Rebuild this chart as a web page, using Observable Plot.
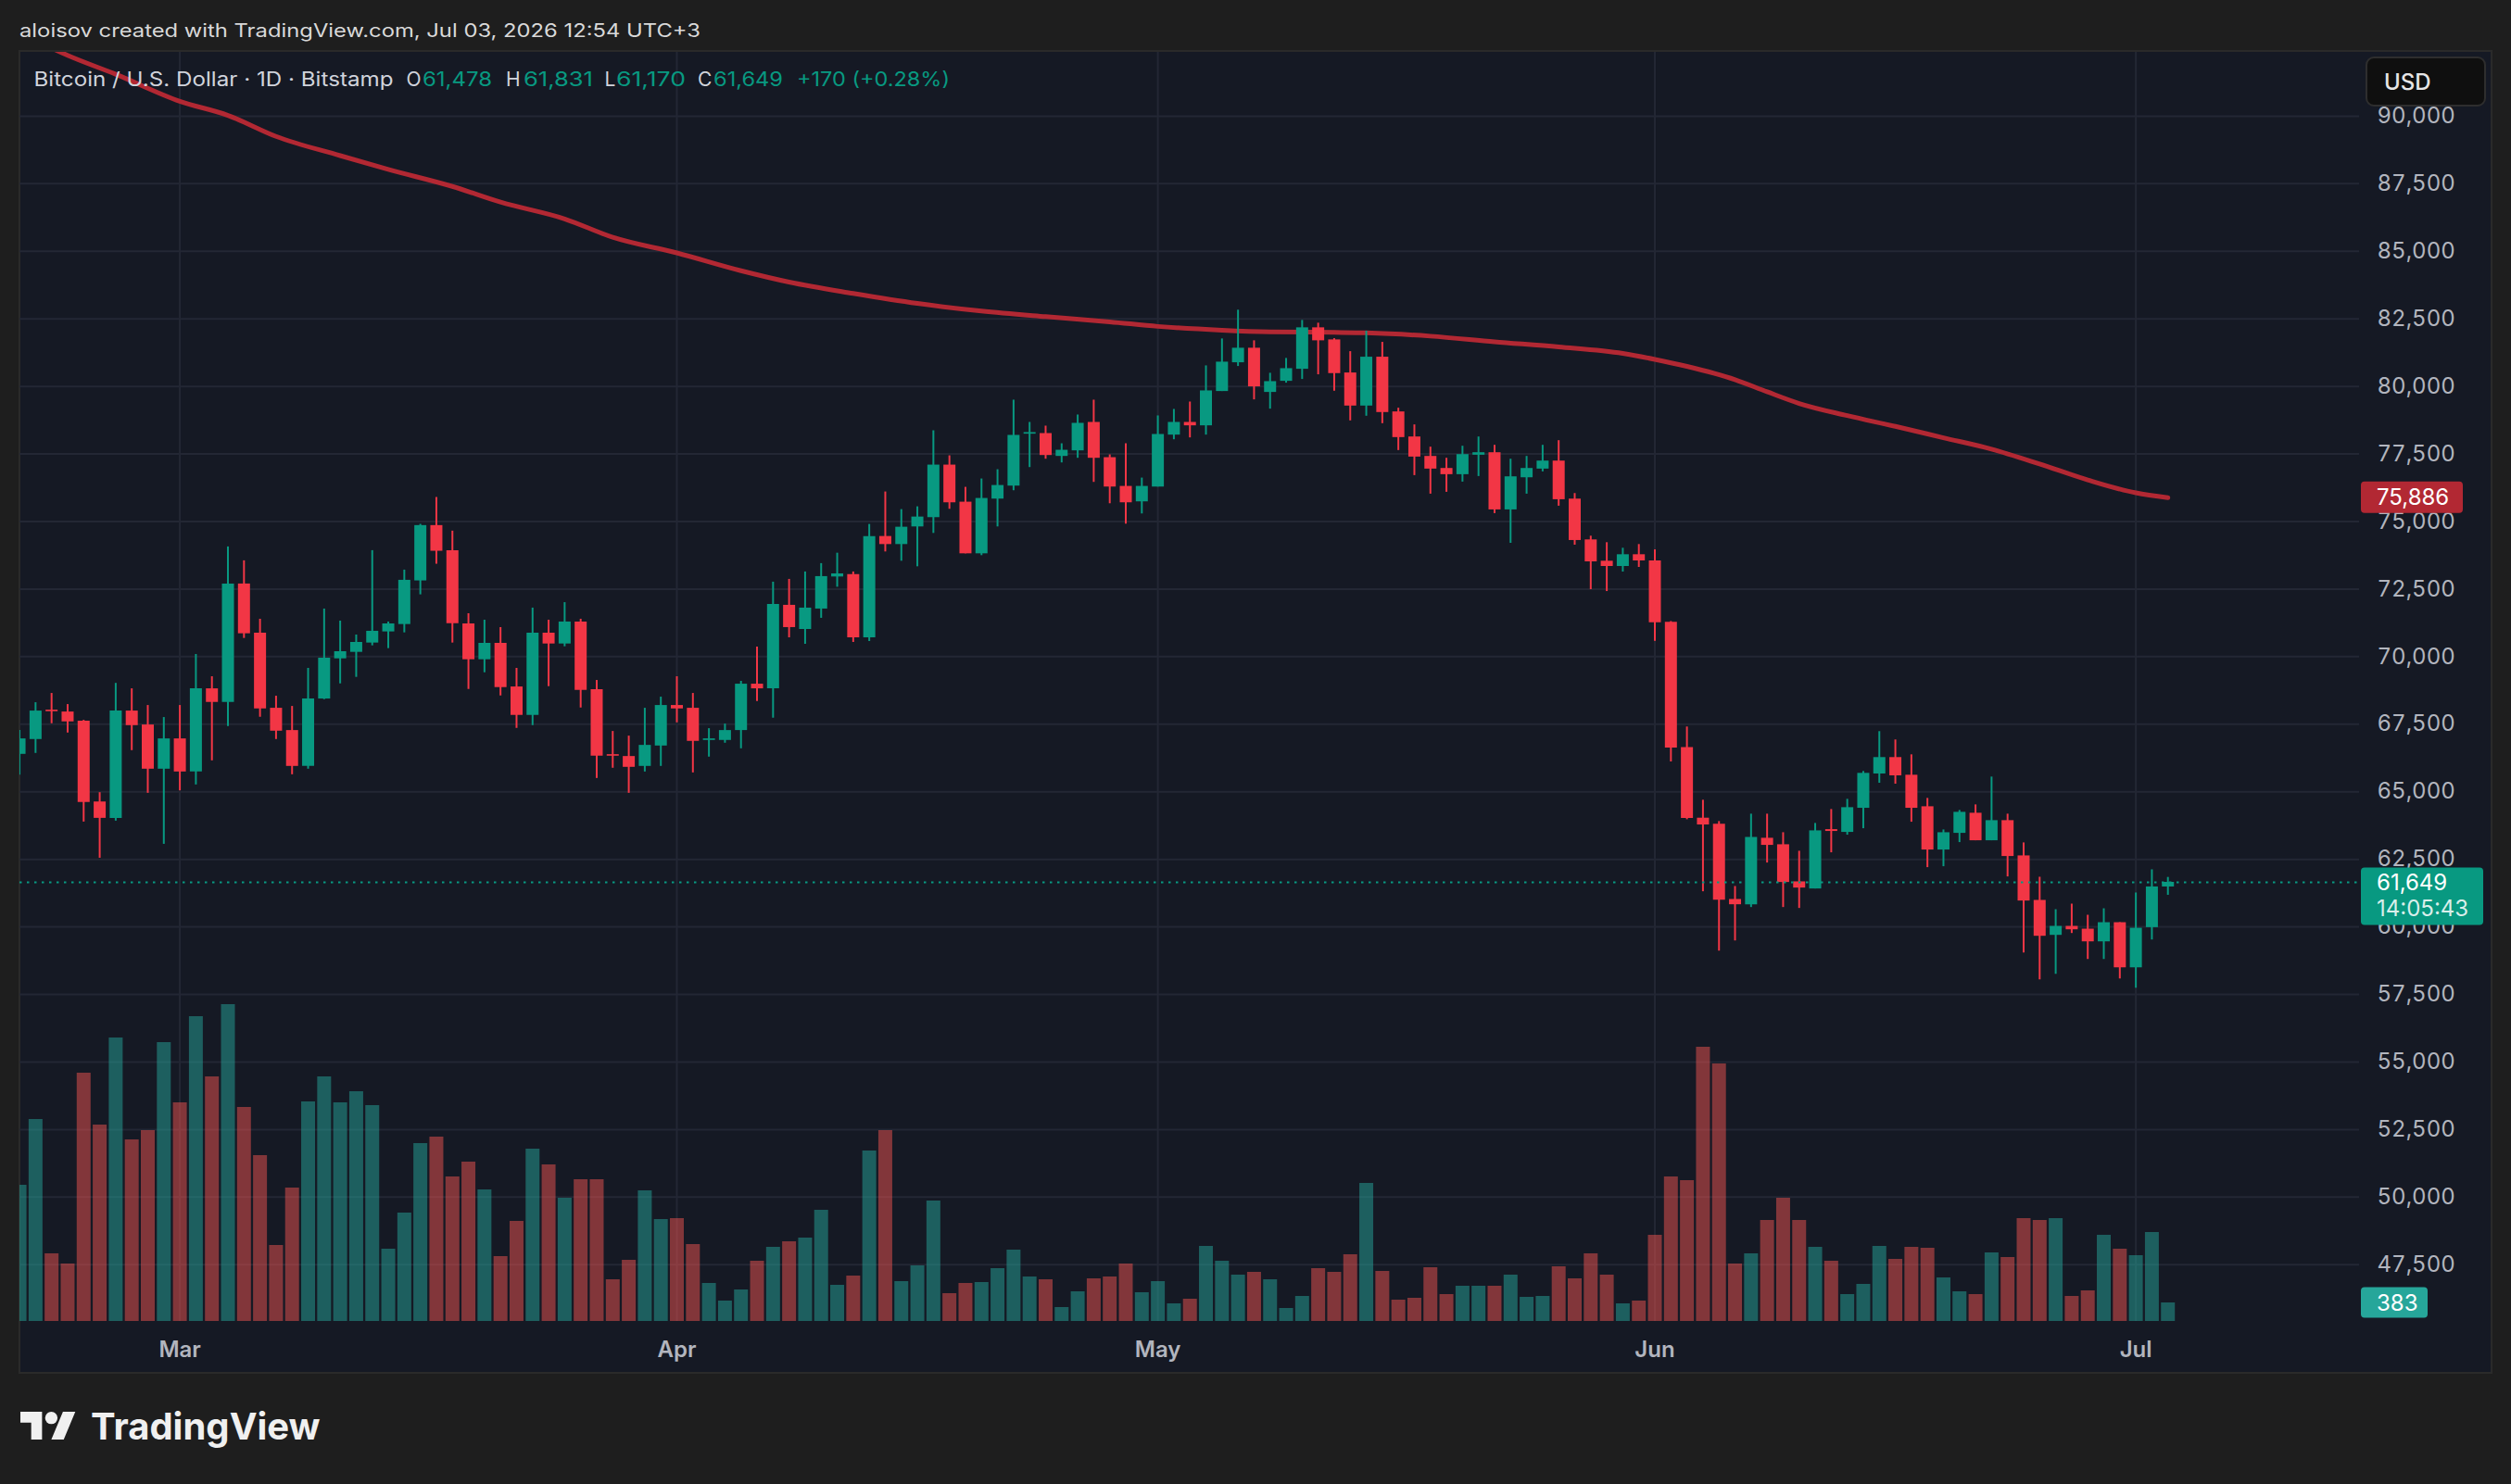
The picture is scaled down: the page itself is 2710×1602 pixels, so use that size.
<!DOCTYPE html>
<html><head><meta charset="utf-8">
<script src="https://cdn.jsdelivr.net/npm/d3@7"></script>
<script src="https://cdn.jsdelivr.net/npm/@observablehq/plot@0.6"></script>
<style>
html,body{margin:0;padding:0;background:#1e1e1e;}
#root{position:relative;width:2710px;height:1602px;overflow:hidden;background:#1e1e1e;font-family:Inter,"DejaVu Sans",sans-serif;}
#panel{position:absolute;left:20px;top:54px;width:2670px;height:1429px;background:#151924;border:2px solid #2a2a2a;box-sizing:border-box}
.layer{position:absolute;left:0;top:0;}
</style></head>
<body><div id="root"><div id="panel"></div></div>
<script>
// ---------------- data ----------------
const firstDay = "2026-02-19", lastDay = "2026-07-03";
const open = [
66385,66934,68021,67952,67610,64623,64017,67987,67472,65836,
66957,65733,68810,68307,72689,70870,68090,67266,65939,68433,
69920,70160,70504,70916,71190,72803,74851,73924,71213,69886,
70492,68879,67827,70870,70469,71282,68776,66374,66305,65939,
66694,
68193,68090,66900,66900,67266,68982,68810,71900,71007,71762,
72949,73040,70698,74447,74149,74801,75145,77089,75717,73806,
75831,76312,78234,78256,77410,77616,78668,77364,76300,75729,
76277,78199,78668,78542,79812,80876,81414,79778,80189,80635,
82169,81722,80498,79274,81082,79057,78130,77410,76964,76735,
77455,77547,75431,76620,76941,77238,75831,74321,73532,73337,
73772,
73541,71276,66632,64023,63795,61015,60820,63280,63040,61667,
61404,63600,63497,64389,65659,66266,65613,64446,62845,63462,
64206,63188,63932,62628,60981,59687,60019,59916,59447,60156,
58486,59973,61478];
const high = [
67266,68296,68639,68227,67644,64967,69012,68810,68193,67747,
68193,70080,69257,74061,73547,71385,68536,68158,69566,71762,
71316,70801,73924,71282,73203,74897,75891,74645,71590,71350,
71076,69566,71797,71350,71999,71385,69120,67232,67060,68090,
68502,
69257,68639,67335,67506,69086,70355,72757,72860,73135,73444,
73829,73135,74893,76094,75442,75545,78359,77432,76266,76575,
76918,79492,78668,78531,77878,78943,79492,77467,77879,76609,
78909,79149,79423,80761,81757,82821,81688,80487,81036,82443,
82340,81768,81287,82043,81631,79194,78577,77753,77341,77787,
78130,77821,77307,77410,77821,77993,76037,74458,74218,74012,
74149,
73953,71300,67398,64687,63898,61495,64172,64172,63486,62799,
63829,64344,64721,65751,67226,66918,66368,64755,63588,64309,
64515,65545,64172,63108,61838,60637,60843,60431,60671,60156,
61255,62113,61831];
const low = [
65619,66420,67518,67175,63880,62541,63914,66523,64944,63056,
65036,65253,66145,67415,70675,67758,66934,65630,65836,68410,
68994,69234,70401,70298,70881,72288,73421,70504,68787,69405,
68547,67346,67449,68891,70366,68101,65493,65871,64944,65733,
65939,
67552,65699,66283,66797,66591,68341,67724,70698,70458,71419,
72570,70527,70561,73875,73532,73326,74561,75454,73806,73738,
74801,76140,76998,77307,77170,77341,76449,75659,74904,75282,
76277,78027,78096,78199,79812,80738,79503,79160,80121,80258,
80430,79823,78725,78897,78622,77627,76700,76014,76083,76460,
76666,75293,74195,76014,76838,75568,74126,72479,72410,73131,
73303,
70567,66105,63966,61301,59104,59481,60717,62364,60717,60683,
61404,62742,63394,63634,65316,65282,63874,62193,62227,63120,
63188,63188,61850,59035,58040,58246,59756,58795,58795,58074,
57731,59516,61170];
const close = [
66957,67987,67964,67587,64601,64017,67987,67449,65836,66957,
65733,68810,68307,72689,70847,68067,67243,65939,68433,69943,
70183,70527,70939,71213,72826,74851,73901,71224,69886,70492,
68856,67827,70870,70469,71282,68753,66317,66317,65905,66717,
68193,
68067,66866,66958,67266,68982,68810,71934,71076,71797,72963,
73063,70698,74447,74149,74790,75167,77089,75694,73806,75854,
76334,78188,78291,77444,77638,78634,77341,76277,75694,76300,
78222,78668,78542,79835,80899,81414,79984,80178,80658,82169,
81688,80475,79274,81082,79034,78107,77386,76941,76735,77478,
77547,75431,76655,76964,77238,75808,74298,73509,73337,73772,
73543,
71253,66620,64012,63772,60992,60820,63314,63017,61644,61438,
63554,63532,64412,65682,66266,65591,64389,62845,63485,64240,
63188,63932,62605,60958,59653,60019,59893,59447,60156,58486,
59951,61479,61649];
const volume = [
2815,4175,1398,1187,5132,4060,5860,3753,3945,5764,
4519,6300,5055,6549,4423,3428,1570,2757,4538,5055,
4519,4749,4462,1494,2240,3677,3811,2987,3294,2719,
1340,2068,3562,3236,2547,2930,2930,862,1264,2700,
2106,
2126,1589,785,421,651,1245,1532,1647,1723,2298,
747,938,3523,3945,823,1149,2489,574,785,804,
1092,1474,919,862,287,613,881,919,1187,594,
823,364,460,1551,1245,957,1015,862,268,517,
1092,1015,1379,2853,1034,440,479,1111,555,728,
728,728,957,498,517,1130,881,1398,957,364,
421,
1781,2987,2911,5668,5323,1187,1398,2087,2547,2087,
1532,1245,555,766,1551,1283,1532,1513,900,613,
555,1417,1321,2126,2087,2126,517,632,1781,1494,
1360,1838,383];
const maDates = ["2026-02-20","2026-02-22","2026-02-25","2026-03-01","2026-03-04","2026-03-07","2026-03-11","2026-03-14","2026-03-18","2026-03-21",
"2026-03-25","2026-03-28","2026-04-01","2026-04-05","2026-04-08","2026-04-12","2026-04-16","2026-04-20","2026-04-24","2026-04-28",
"2026-05-01","2026-05-05","2026-05-08","2026-05-12","2026-05-14","2026-05-18","2026-05-22","2026-05-26","2026-05-30","2026-06-01",
"2026-06-03","2026-06-06","2026-06-08","2026-06-10","2026-06-13","2026-06-16","2026-06-19","2026-06-22","2026-06-25","2026-06-28",
"2026-07-01","2026-07-03"];
const maValues = [92800,92250,91550,90550,90030,89250,88540,88030,87400,86820,
86200,85520,84940,84280,83860,83440,83070,82790,82580,82390,
82220,82080,82020,82000,81980,81860,81650,81460,81220,81000,
80740,80250,79800,79370,78920,78520,78100,77680,77130,76540,
76060,75886];
const priceTicks = [47500,50000,52500,55000,57500,60000,62500,65000,67500,70000,72500,75000,77500,80000,82500,85000,87500,90000];
const monthTicks = ["2026-03-01","2026-04-01","2026-05-01","2026-06-01","2026-07-01"];
const headerText = "aloisov created with TradingView.com, Jul 03, 2026 12:54 UTC+3";
const symbolText = "Bitcoin / U.S. Dollar · 1D · Bitstamp";
const countdown = "14:05:43";

// --------------- layout ----------------
const W = 2710, H = 1602, mL = 21, mR = 164, mT = 56, mB = 176;
const DAY = 864e5, mar1 = Date.UTC(2026,2,1);
const xDomain = [new Date(mar1 - 9.975*DAY), new Date(mar1 + 135.95*DAY)];
const yDomain = [45400, 92362];
const volDomain = [0, 26236];
const UP = "#089981", DOWN = "#f23645", MA = "#b22833";
const dates = d3.utcDay.range(new Date(firstDay), d3.utcDay.offset(new Date(lastDay), 1));
const bars = dates.map((d,i) => ({date:d, open:open[i], high:high[i], low:low[i], close:close[i], volume:volume[i]}));
const ma = maDates.map((d,i) => ({date:new Date(d), value:maValues[i]}));
const mts = monthTicks.map(d => new Date(d));
const col = d => d.close >= d.open ? UP : DOWN;
const volCol = d => d.close >= d.open ? "rgba(38,166,154,0.5)" : "rgba(239,83,80,0.5)";
const base = {width:W, height:H, marginLeft:mL, marginRight:mR, marginTop:mT, marginBottom:mB,
  style:{background:"none", maxWidth:"none", fontFamily:"Inter, sans-serif", color:"#b2b5be", overflow:"visible"},
  color:{type:"identity"}};
const root = document.getElementById("root");

// grid layer (price scale)
const gridPlot = Plot.plot({...base,
  x:{type:"utc", domain:xDomain, axis:null}, y:{domain:yDomain, axis:null},
  marks:[
    Plot.gridY(priceTicks, {stroke:"#232734", strokeOpacity:1, strokeWidth:2}),
    Plot.gridX(mts, {stroke:"#232734", strokeOpacity:1, strokeWidth:2})
  ]});
gridPlot.classList.add("layer"); root.appendChild(gridPlot);

// volume layer
const volPlot = Plot.plot({...base,
  x:{type:"utc", domain:xDomain, axis:null}, y:{domain:volDomain, axis:null},
  marks:[
    Plot.ruleX(bars, {x:"date", y1:0, y2:"volume", stroke:volCol, strokeWidth:15, clip:true})
  ]});
volPlot.classList.add("layer"); root.appendChild(volPlot);

// price layer
const pricePlot = Plot.plot({...base,
  x:{type:"utc", domain:xDomain}, y:{domain:yDomain},
  marks:[
    Plot.line(ma, {x:"date", y:"value", stroke:MA, strokeWidth:5, curve:"monotone-x", clip:true, strokeLinecap:"round"}),
    Plot.ruleX(bars, {x:"date", y1:"low", y2:"high", stroke:col, strokeWidth:2, clip:true}),
    Plot.ruleX(bars, {x:"date", y1:"open", y2:"close", stroke:col, strokeWidth:13, clip:true}),
    Plot.ruleY([close[close.length-1]], {stroke:UP, strokeWidth:2, strokeDasharray:"2.5,5.5"}),
    Plot.axisY(priceTicks, {anchor:"right", tickSize:0, tickPadding:19, tickFormat:d3.format(","), fontSize:24, label:null}),
    Plot.axisX(mts, {anchor:"bottom", tickSize:0, tickPadding:21, tickFormat:d3.utcFormat("%b"), fontSize:24, fontWeight:600, label:null})
  ]});
pricePlot.classList.add("layer"); root.appendChild(pricePlot);

// value tags on the price scale (positions from Plot's scales)
const ys = pricePlot.scale("y"), vs = volPlot.scale("y");
const psvg = d3.select(pricePlot);
const fmt = d3.format(",");
function tag(yc, top, h, w, fill, lines){
  const g = psvg.append("g").attr("text-anchor","start");
  g.append("rect").attr("x",2548).attr("y",yc-top).attr("width",w).attr("height",h).attr("rx",4).attr("fill",fill);
  lines.forEach(([t,dy,op]) => g.append("text").attr("x",2565).attr("y",yc+dy).attr("dy","0.36em")
    .attr("text-anchor","start").attr("font-size",24).attr("fill","#ffffff").attr("fill-opacity",op)
    .attr("font-family","Inter, sans-serif").text(t));
}
const lastMA = maValues[maValues.length-1], lastC = close[close.length-1], lastV = volume[volume.length-1];
tag(ys.apply(lastMA), 17, 34, 110, MA, [[fmt(lastMA),0,1]]);
tag(ys.apply(lastC), 15.5, 62, 132, UP, [[fmt(lastC),0,1],[countdown,28,0.85]]);
tag(vs.apply(lastV), 16.5, 33, 72, "#26a69a", [[fmt(lastV),0,1]]);

// overlay texts: header, legend, currency button, logo
const ov = d3.select(root).append("svg").attr("class","layer").attr("width",W).attr("height",H)
  .style("font-family","Inter, sans-serif");
ov.append("text").attr("x",21).attr("y",39.5).attr("font-size",20).attr("fill","#d9d9d9")
  .attr("textLength",735).attr("lengthAdjust","spacingAndGlyphs").text(headerText);
const prevC = close[close.length-2];
const legend = [
  [symbolText,36.5,388,"#d1d4dc"],
  ["O",438.6,null,"#d1d4dc"],[fmt(open[open.length-1]),456,75,UP],
  ["H",546,null,"#d1d4dc"],[fmt(high[high.length-1]),565,75,UP],
  ["L",652.6,null,"#d1d4dc"],[fmt(low[low.length-1]),665,75,UP],
  ["C",753,null,"#d1d4dc"],[fmt(lastC),770,75,UP],
  ["+" + (lastC - prevC) + " (+" + ((lastC - prevC) / prevC * 100).toFixed(2) + "%)",860,165,UP]
];
legend.forEach(([t,x,len,c]) => {
  const el = ov.append("text").attr("x",x).attr("y",93).attr("font-size",21).attr("fill",c).text(t);
  if (len) el.attr("textLength",len).attr("lengthAdjust","spacingAndGlyphs");
});
ov.append("rect").attr("x",2554).attr("y",62).attr("width",128).attr("height",52).attr("rx",8)
  .attr("fill","#0f0f0f").attr("stroke","#2e2e2e").attr("stroke-width",2);
ov.append("text").attr("x",2573).attr("y",96.5).attr("font-size",24).attr("font-weight",500).attr("fill","#e6e6e6").text("USD");
const logo = ov.append("g").attr("transform","translate(22,1517.3) scale(1.67)").attr("fill","#f0f0f0");
logo.append("path").attr("d","M14 22H7V11H0V4h14v18zM28 22h-8l7.5-18h8L28 22z");
logo.append("circle").attr("cx",20).attr("cy",8).attr("r",4);
ov.append("text").attr("x",98).attr("y",1554).attr("font-size",40).attr("font-weight",700).attr("fill","#f0f0f0").text("TradingView");
</script></body></html>
